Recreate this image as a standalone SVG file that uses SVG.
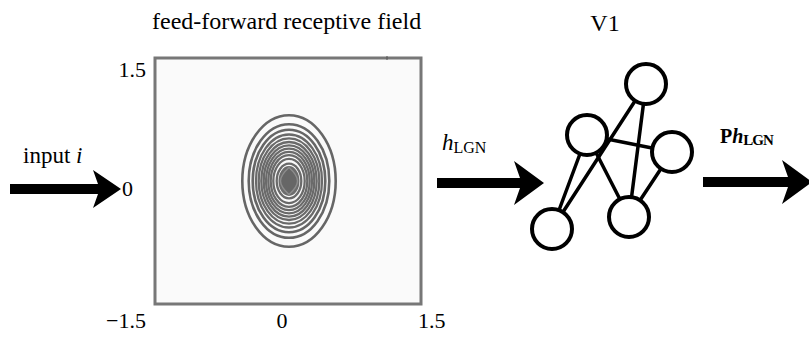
<svg xmlns="http://www.w3.org/2000/svg" width="809" height="338" viewBox="0 0 809 338">
<style>
  text { font-family: "Liberation Serif", "Times New Roman", serif; fill: #000; }
  .lbl { font-size: 23px; }
  .tick { font-size: 22px; }
  .ring { fill: none; stroke: #666; stroke-width: 2.6; }
  .ring-in { fill: none; stroke: #6a6a6a; stroke-width: 2.3; }
  .neuron { fill: #fff; stroke: #000; stroke-width: 4; }
  .edge { stroke: #000; stroke-width: 3.5; stroke-linecap: round; }
  .arrow { fill: #000; }
</style>
<rect width="809" height="338" fill="#fff"/>
<text id="title-rf" x="152" y="29" style="font-size:24px">feed-forward receptive field</text>
<text id="title-v1" x="605" y="31" text-anchor="middle" style="font-size:24px">V1</text>

<g id="rf-plot">
  <rect x="155" y="58" width="266" height="246" fill="#fafafa" stroke="#777" stroke-width="3"/>
  <line x1="387" y1="56" x2="387" y2="60" stroke="#555" stroke-width="1"/>
  <g transform="translate(289,181)">
    <ellipse class="ring" rx="46.7" ry="65.8"/>
    <ellipse class="ring" rx="40.3" ry="56.8"/>
    <ellipse class="ring" rx="36.3" ry="51.2"/>
    <ellipse class="ring-in" rx="33" ry="46.5"/>
    <ellipse class="ring-in" rx="30.3" ry="42.7"/>
    <ellipse class="ring-in" rx="27.7" ry="39"/>
    <ellipse class="ring-in" rx="25.3" ry="35.7"/>
    <ellipse class="ring-in" rx="23" ry="32.4"/>
    <ellipse class="ring-in" rx="20.7" ry="29.2"/>
    <ellipse class="ring-in" rx="18.3" ry="25.8"/>
    <ellipse class="ring-in" rx="15.7" ry="22.1"/>
    <ellipse class="ring-in" rx="12.3" ry="17.3"/>
    <ellipse rx="10.5" ry="15" fill="#6c6c6c"/>
    <path d="M0,-13.5 C5.5,-8.5 8.5,-4 8.5,0 C8.5,4 5.5,8.5 0,13.5 C-5.5,8.5 -8.5,4 -8.5,0 C-8.5,-4 -5.5,-8.5 0,-13.5 Z" fill="#666" stroke="#8c8c8c" stroke-width="1.4"/>
  </g>
  <text class="tick" x="146" y="77" text-anchor="end">1.5</text>
  <text class="tick" x="146" y="328" text-anchor="end">−1.5</text>
  <text class="tick" x="282" y="328" text-anchor="middle">0</text>
  <text class="tick" x="418" y="328">1.5</text>
  <text class="tick" x="122" y="196">0</text>
</g>

<g id="connectors">
  <path id="arrow-input" class="arrow" d="M10,184 L98,184 L93,170 L121,189 L93,208 L98,194 L10,194 Z"/>
  <path id="arrow-h" class="arrow" d="M437,178 L520,178 L514,161 L544,183 L514,205 L520,188 L437,188 Z"/>
  <path id="arrow-ph" class="arrow" d="M703,177 L788,177 L782,160 L812,182 L782,204 L788,187 L703,187 Z"/>
  <line class="edge" x1="587" y1="135" x2="552" y2="229"/>
  <line class="edge" x1="646" y1="84" x2="552" y2="229"/>
  <line class="edge" x1="646" y1="84" x2="629" y2="217"/>
  <line class="edge" x1="587" y1="135" x2="672" y2="152"/>
  <line class="edge" x1="587" y1="135" x2="629" y2="217"/>
  <line class="edge" x1="672" y1="152" x2="629" y2="217"/>
</g>

<g id="label-input"><text class="lbl" x="23" y="163">input <tspan font-style="italic">i</tspan></text></g>
<g id="label-h"><text x="442" y="150" style="font-size:23px"><tspan font-style="italic">h</tspan><tspan font-size="16" dy="3">LGN</tspan></text></g>
<g id="label-ph"><text x="720" y="143" font-weight="bold" style="font-size:20px">P<tspan font-style="italic">h</tspan><tspan font-size="15" dy="2" letter-spacing="-1">LGN</tspan></text></g>

<g id="node-top"><circle class="neuron" cx="646" cy="84" r="20"/></g>
<g id="node-upper-left"><circle class="neuron" cx="587" cy="135" r="20"/></g>
<g id="node-right"><circle class="neuron" cx="672" cy="152" r="20"/></g>
<g id="node-bottom-left"><circle class="neuron" cx="552" cy="229" r="20"/></g>
<g id="node-bottom-right"><circle class="neuron" cx="629" cy="217" r="20"/></g>
</svg>
